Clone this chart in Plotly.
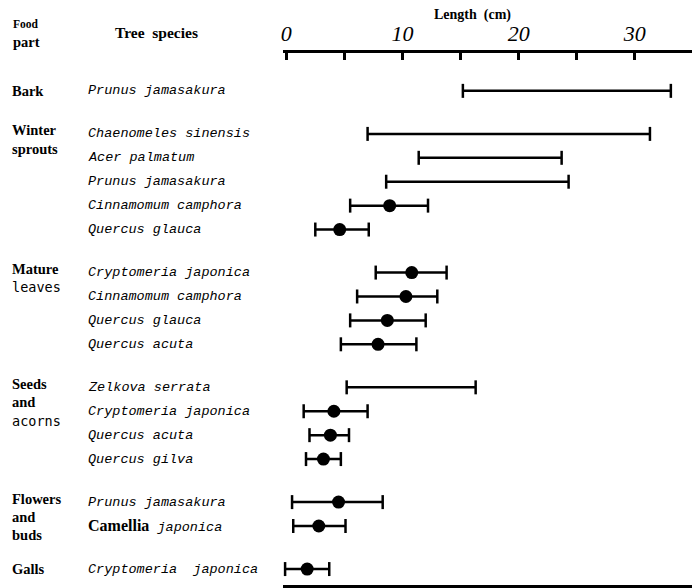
import plotly.graph_objects as go

# ---------------- data ----------------
group_names = ["Bark", "Winter sprouts", "Mature leaves", "Seeds and acorns",
               "Flowers and buds", "Galls"]
row_group = [0, 1, 1, 1, 1, 1, 2, 2, 2, 2, 3, 3, 3, 3, 4, 4, 5]
species = ["Prunus jamasakura",
           "Chaenomeles sinensis", "Acer palmatum", "Prunus jamasakura",
           "Cinnamomum camphora", "Quercus glauca",
           "Cryptomeria japonica", "Cinnamomum camphora", "Quercus glauca",
           "Quercus acuta",
           "Zelkova serrata", "Cryptomeria japonica", "Quercus acuta",
           "Quercus gilva",
           "Prunus jamasakura", "Camellia japonica",
           "Cryptomeria  japonica"]
len_min = [15.2, 7.0, 11.4, 8.6, 5.5, 2.5, 7.7, 6.1, 5.5, 4.7,
           5.2, 1.5, 2.0, 1.7, 0.5, 0.6, -0.1]
len_max = [33.1, 31.3, 23.7, 24.3, 12.2, 7.1, 13.8, 13.0, 12.0, 11.2,
           16.3, 7.0, 5.4, 4.7, 8.3, 5.1, 3.7]
len_mean = [None, None, None, None, 8.9, 4.6, 10.8, 10.3, 8.7, 7.9,
            None, 4.1, 3.8, 3.2, 4.5, 2.8, 1.8]
tick_vals = [0, 5, 10, 15, 20, 25, 30]
tick_text = ["0", "", "10", "", "20", "", "30"]

# row slots (group gap)
slots = []
s = 0.0
for i, g in enumerate(row_group):
    if i > 0:
        s += 1.0 if g == row_group[i - 1] else 1.8
    slots.append(s)

# ---------------- figure ----------------
W_FIG, H_FIG = 692, 588
L, T, B, R = 283, 53, 1, 0
PW, PH = W_FIG - L - R, H_FIG - T - B


def px(xp):
    return (xp - L) / PW


def py(yp):
    return 1 - (yp - T) / PH


fig = go.Figure()

bx, by = [], []
for lo, hi, sl in zip(len_min, len_max, slots):
    bx += [lo, hi, None]
    by += [sl, sl, None]
fig.add_trace(go.Scatter(
    x=bx, y=by, mode="lines+markers",
    line=dict(color="black", width=2.5),
    marker=dict(symbol="line-ns", size=10, line=dict(color="black", width=2.5)),
    hoverinfo="skip", showlegend=False))

mx = [m for m in len_mean if m is not None]
my = [sl for m, sl in zip(len_mean, slots) if m is not None]
fig.add_trace(go.Scatter(
    x=mx, y=my, mode="markers",
    marker=dict(symbol="circle", size=13, color="black"),
    showlegend=False))

SERIF = "Liberation Serif"
MONO = "Liberation Mono"
ann = []

# species labels
for sp, sl in zip(species, slots):
    if sp.startswith("Camellia"):
        txt = ('<span style="font-family:Liberation Serif;font-style:normal;'
               'font-weight:bold;font-size:16px">Camellia</span> japonica')
    else:
        txt = sp
    ann.append(dict(x=px(86), xref="paper", y=sl, yref="y", text=txt,
                    showarrow=False, xanchor="left", yanchor="middle",
                    font=dict(family=MONO, size=13.5, style="italic",
                              color="black")))

# group labels
group_lines = [
    [("Bark", True)],
    [("Winter", True), ("sprouts", True)],
    [("Mature", True), ("leaves", False)],
    [("Seeds", True), ("and", True), ("acorns", False)],
    [("Flowers", True), ("and", True), ("buds", True)],
    [("Galls", True)],
]
for gi, lines in enumerate(group_lines):
    first = slots[row_group.index(gi)]
    off = -0.15 if len(lines) > 1 else 0.0
    for k, (t, bold) in enumerate(lines):
        if bold:
            f = dict(family=SERIF, size=14.5, weight="bold", color="black")
        else:
            f = dict(family="DejaVu Sans Mono", size=13.5, color="black")
        ann.append(dict(x=px(10), xref="paper", y=first + off + 0.77 * k,
                        yref="y", text=t, showarrow=False, xanchor="left",
                        yanchor="middle", font=f))

# headers
ann.append(dict(x=px(11), xref="paper", y=py(24), yref="paper", text="Food",
                showarrow=False, xanchor="left", yanchor="middle",
                font=dict(family=SERIF, size=11.5, weight="bold", color="black")))
ann.append(dict(x=px(11), xref="paper", y=py(42), yref="paper", text="part",
                showarrow=False, xanchor="left", yanchor="middle",
                font=dict(family=SERIF, size=14.5, weight="bold", color="black")))
ann.append(dict(x=px(156), xref="paper", y=py(32), yref="paper",
                text="Tree  species", showarrow=False, xanchor="center",
                yanchor="middle",
                font=dict(family=SERIF, size=15.5, weight="bold", color="black")))
ann.append(dict(x=px(472), xref="paper", y=py(15), yref="paper",
                text="Length  (cm)", showarrow=False, xanchor="center",
                yanchor="middle",
                font=dict(family=SERIF, size=14, weight="bold", color="black")))

fig.update_layout(
    width=W_FIG, height=H_FIG,
    margin=dict(l=L, r=R, t=T, b=B, pad=0),
    paper_bgcolor="white", plot_bgcolor="white",
    annotations=ann,
    xaxis=dict(side="top", range=[-0.28, 34.92], tickvals=tick_vals,
               ticktext=tick_text, ticks="inside", ticklen=7, tickwidth=2.5,
               tickcolor="black", showline=True, linecolor="black",
               linewidth=2.5, mirror=True, showgrid=False, zeroline=False,
               ticklabelstandoff=0,
               tickfont=dict(family=SERIF, size=22, style="italic",
                             color="black")),
    yaxis=dict(range=[(587 - 91) / 24.0, (53 - 91) / 24.0], visible=False,
               showgrid=False, zeroline=False),
)

fig.write_html("out.html")
